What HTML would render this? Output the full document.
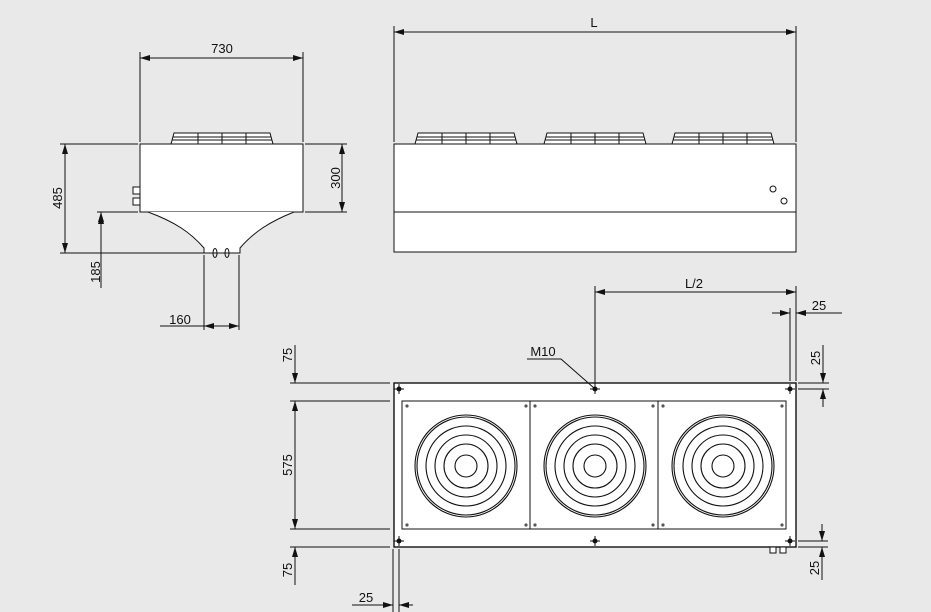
<!DOCTYPE html>
<html><head><meta charset="utf-8"><style>
body{margin:0;background:#e9e9e9}
svg{display:block}
text{font-family:"Liberation Sans",sans-serif;font-size:13px;fill:#111}
</style></head><body>
<svg width="931" height="612" viewBox="0 0 931 612" xmlns="http://www.w3.org/2000/svg">
<defs>
<marker id="a" viewBox="0 0 10 6" refX="10" refY="3" markerWidth="10" markerHeight="6" orient="auto-start-reverse" markerUnits="userSpaceOnUse"><path d="M0,0L10,3L0,6z" fill="#111"/></marker>
<g id="fan"><path d="M3,0H99L102,11H0Z" fill="#fff" stroke="#111" stroke-width="1"/>
<path d="M1.5,4H100.5M1,7H101M27,0V11M51,0V11M75,0V11" stroke="#111" stroke-width="1" fill="none"/></g>
<g id="rings" fill="none" stroke="#111" stroke-width="1.1"><circle r="51"/><circle r="49"/><circle r="40"/><circle r="31"/><circle r="22"/><circle r="11"/></g>
<g id="cr" stroke="#111" stroke-width="1"><path d="M-5,0H5M0,-5V5"/><circle r="2" fill="#111"/></g>
</defs>
<g stroke="#111" stroke-width="1" fill="none">
<use href="#fan" x="171" y="133"/>
<rect x="140" y="144" width="163" height="68" fill="#fff"/>
<path d="M148,212 C175,222 190,232 204,248 V253 H240 V248 C254,232 269,222 294,212" fill="#fff"/>
<rect x="133" y="187" width="7" height="7" fill="#fff"/><rect x="133" y="198" width="7" height="7" fill="#fff"/>
<ellipse cx="215" cy="253" rx="2" ry="4.5"/><ellipse cx="227" cy="253" rx="2" ry="4.5"/>
<path d="M140,52V142M303,52V142"/>
<path d="M140,58H303" marker-start="url(#a)" marker-end="url(#a)"/>
<path d="M60,144H138M60,253H204M305,144H347M305,212H347M97,212H138"/>
<path d="M65,144V253" marker-start="url(#a)" marker-end="url(#a)"/>
<path d="M342,144V212" marker-start="url(#a)" marker-end="url(#a)"/>
<path d="M101,212V288" marker-start="url(#a)"/>
<path d="M101,253V214" marker-end="url(#a)"/>
<path d="M204,255V330M239,255V330"/>
<path d="M204,326H239" marker-start="url(#a)" marker-end="url(#a)"/>
<path d="M160,326H204"/>
<use href="#fan" x="415" y="133"/><use href="#fan" x="544" y="133"/><use href="#fan" x="672" y="133"/>
<rect x="394" y="144" width="402" height="108" fill="#fff"/>
<path d="M394,212H796"/>
<circle cx="773" cy="189" r="3"/><circle cx="784" cy="201" r="3"/>
<path d="M394,26V142M796,26V142"/>
<path d="M394,32H796" marker-start="url(#a)" marker-end="url(#a)"/>
<rect x="394" y="383" width="402" height="164" fill="#fff" stroke-width="1.4"/>
<rect x="402" y="401" width="128" height="128"/><rect x="530" y="401" width="128" height="128"/><rect x="658" y="401" width="128" height="128"/>
<use href="#rings" x="466" y="466"/><use href="#rings" x="595" y="466"/><use href="#rings" x="723" y="466"/>
<rect x="770" y="547" width="6" height="6" fill="#fff"/><rect x="780" y="547" width="6" height="6" fill="#fff"/>
</g>
<g fill="#555">
<circle cx="407" cy="406" r="1.6"/><circle cx="526" cy="406" r="1.6"/><circle cx="407" cy="525" r="1.6"/><circle cx="526" cy="525" r="1.6"/>
<circle cx="535" cy="406" r="1.6"/><circle cx="653" cy="406" r="1.6"/><circle cx="535" cy="525" r="1.6"/><circle cx="653" cy="525" r="1.6"/>
<circle cx="663" cy="406" r="1.6"/><circle cx="782" cy="406" r="1.6"/><circle cx="663" cy="525" r="1.6"/><circle cx="782" cy="525" r="1.6"/>
</g>
<use href="#cr" x="399" y="389"/><use href="#cr" x="595" y="389"/><use href="#cr" x="790" y="389"/>
<use href="#cr" x="399" y="541"/><use href="#cr" x="595" y="541"/><use href="#cr" x="790" y="541"/>
<g stroke="#111" stroke-width="1" fill="none">
<path d="M595,286V387M796,286V381M790,308V381"/>
<path d="M595,292H796" marker-start="url(#a)" marker-end="url(#a)"/>
<path d="M772,313H790" marker-end="url(#a)"/>
<path d="M842,313H796" marker-end="url(#a)"/>
<path d="M527,359H561L594,388"/>
<path d="M798,383H829M798,389H829"/>
<path d="M823,345V383" marker-end="url(#a)"/><path d="M823,407V389" marker-end="url(#a)"/>
<path d="M798,541H828M798,547H828"/>
<path d="M822,524V541" marker-end="url(#a)"/><path d="M822,580V547" marker-end="url(#a)"/>
<path d="M290,383H390M290,401H390M290,529H390M290,547H390"/>
<path d="M295,345V383" marker-end="url(#a)"/>
<path d="M295,401V529" marker-start="url(#a)" marker-end="url(#a)"/>
<path d="M295,585V547" marker-end="url(#a)"/>
<path d="M393,549V612M399,549V612"/>
<path d="M352,605H393" marker-end="url(#a)"/><path d="M413,605H399" marker-end="url(#a)"/>
</g>
<text x="222" y="53" text-anchor="middle">730</text>
<text x="594" y="27" text-anchor="middle">L</text>
<text x="694" y="288" text-anchor="middle">L/2</text>
<text x="819" y="310" text-anchor="middle">25</text>
<text x="543" y="356" text-anchor="middle">M10</text>
<text x="180" y="324" text-anchor="middle">160</text>
<text x="366" y="602" text-anchor="middle">25</text>
<text transform="translate(62,198) rotate(-90)" text-anchor="middle">485</text>
<text transform="translate(340,178) rotate(-90)" text-anchor="middle">300</text>
<text transform="translate(100,272) rotate(-90)" text-anchor="middle">185</text>
<text transform="translate(292,355) rotate(-90)" text-anchor="middle">75</text>
<text transform="translate(292,465) rotate(-90)" text-anchor="middle">575</text>
<text transform="translate(292,570) rotate(-90)" text-anchor="middle">75</text>
<text transform="translate(820,358) rotate(-90)" text-anchor="middle">25</text>
<text transform="translate(819,568) rotate(-90)" text-anchor="middle">25</text>
</svg>
</body></html>
